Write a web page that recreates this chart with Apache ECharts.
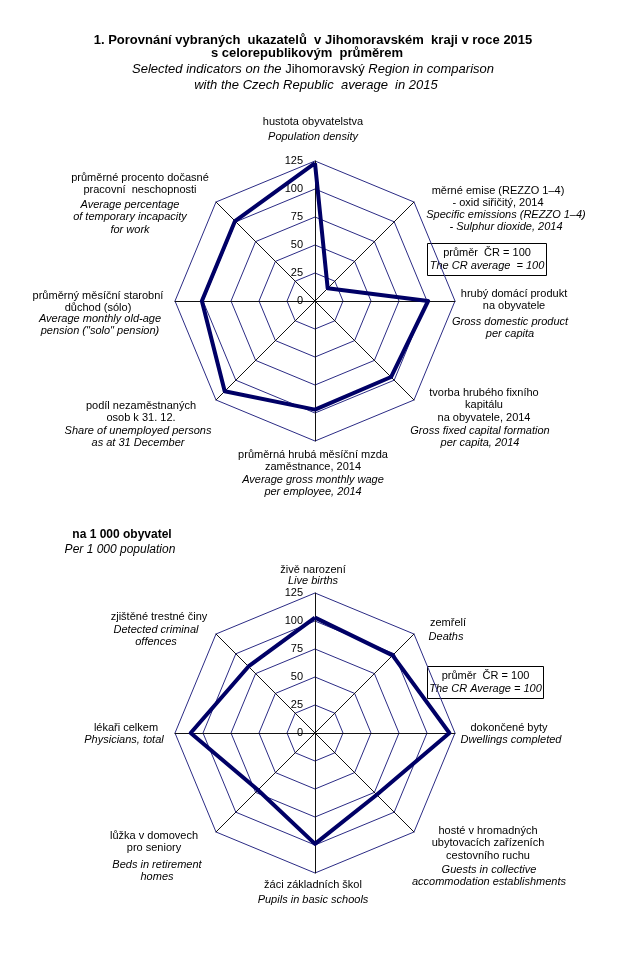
<!DOCTYPE html>
<html><head><meta charset="utf-8">
<script src="https://cdn.jsdelivr.net/npm/echarts@6/dist/echarts.min.js"></script>
<style>html,body{margin:0;padding:0;background:#fff}#c{width:626px;height:960px}</style>
</head><body><div id="c"></div><script>
// ---- data (clockwise from top) ----
const scaleTicks = [0, 25, 50, 75, 100, 125];
const topNamesCz = [
  'hustota obyvatelstva',
  'měrné emise (REZZO 1–4)\n- oxid siřičitý, 2014',
  'hrubý domácí produkt\nna obyvatele',
  'tvorba hrubého fixního\nkapitálu\nna obyvatele, 2014',
  'průměrná hrubá měsíční mzda\nzaměstnance, 2014',
  'podíl nezaměstnaných\nosob k 31. 12.',
  'průměrný měsíční starobní\ndůchod (sólo)',
  'průměrné procento dočasné\npracovní  neschopnosti'
];
const topNamesEn = [
  'Population density',
  'Specific emissions (REZZO 1–4)\n- Sulphur dioxide, 2014',
  'Gross domestic product\nper capita',
  'Gross fixed capital formation\nper capita, 2014',
  'Average gross monthly wage\nper employee, 2014',
  'Share of unemployed persons\nas at 31 December',
  'Average monthly old-age\npension ("solo" pension)',
  'Average percentage\nof temporary incapacity\nfor work'
];
const topValues = [123, 16, 101, 96, 97, 114, 101, 101];

const bottomNamesCz = [
  'živě narození',
  'zemřelí',
  'dokončené byty',
  'hosté v hromadných\nubytovacích zařízeních\ncestovního ruchu',
  'žáci základních škol',
  'lůžka v domovech\npro seniory',
  'lékaři celkem',
  'zjištěné trestné činy'
];
const bottomNamesEn = [
  'Live births',
  'Deaths',
  'Dwellings completed',
  'Guests in collective\naccommodation establishments',
  'Pupils in basic schools',
  'Beds in retirement\nhomes',
  'Physicians, total',
  'Detected criminal\noffences'
];
const bottomValues = [103, 98, 120, 78, 99, 72, 111, 84];

// ---- layout (label positions: czX, czFirstLineY, enX, enFirstLineY) ----
const topLabelPos = [
  [313, 122, 313, 137],
  [498, 191, 506, 215],
  [514, 294, 510, 322],
  [484, 393, 480, 431],
  [313, 455, 313, 480],
  [141, 406, 138, 431],
  [98, 296, 100, 319],
  [140, 178, 130, 205]
];
const bottomLabelPos = [
  [313, 570, 313, 581],
  [448, 623, 446, 637],
  [509, 728, 511, 740],
  [488, 831, 489, 870],
  [313, 885, 313, 900],
  [154, 836, 157, 865],
  [126, 728, 124, 740],
  [159, 617, 156, 630]
];

const FONT = '"Liberation Sans", Arial, sans-serif';
const LH = 12.4;
// ECharts radar places indicators counter-clockwise; reorder clockwise data
const order = [0, 7, 6, 5, 4, 3, 2, 1];

function radarCfg(center) {
  return {
    center: center, radius: 140, startAngle: 90, shape: 'polygon', splitNumber: 5,
    indicator: order.map((k, j) => ({
      name: '', min: scaleTicks[0], max: scaleTicks[scaleTicks.length - 1],
      axisLabel: j === 0 ? { show: true } : { show: false }
    })),
    axisName: { show: false },
    axisLine: { lineStyle: { color: '#111', width: 1 } },
    splitLine: { lineStyle: { color: '#2B2B85', width: 1 } },
    splitArea: { show: false },
    axisTick: { show: false },
    axisLabel: { show: false, color: '#000', fontSize: 11, fontFamily: FONT, margin: 12 }
  };
}

const graphics = [];
function addText(x, y, text, italic, extra) {
  graphics.push(Object.assign({
    type: 'text', x: x, y: y - LH / 2, silent: true,
    style: {
      text: text, fill: '#000', align: 'center', verticalAlign: 'top',
      font: (italic ? 'italic ' : '') + '11px ' + FONT, lineHeight: LH
    }
  }, extra || {}));
}
topNamesCz.forEach((t, i) => {
  addText(topLabelPos[i][0], topLabelPos[i][1], t, false);
  addText(topLabelPos[i][2], topLabelPos[i][3], topNamesEn[i], true);
});
bottomNamesCz.forEach((t, i) => {
  addText(bottomLabelPos[i][0], bottomLabelPos[i][1], t, false);
  addText(bottomLabelPos[i][2], bottomLabelPos[i][3], bottomNamesEn[i], true);
});

// Titles
graphics.push({ type: 'text', x: 313, y: 34, silent: true, style: {
  text: '1. Porovnání vybraných  ukazatelů  v Jihomoravském  kraji v roce 2015',
  font: 'bold 13px ' + FONT, fill: '#000', align: 'center', verticalAlign: 'top' } });
graphics.push({ type: 'text', x: 307, y: 47, silent: true, style: {
  text: 's celorepublikovým  průměrem',
  font: 'bold 13px ' + FONT, fill: '#000', align: 'center', verticalAlign: 'top' } });
graphics.push({ type: 'text', x: 313, y: 63, silent: true, style: {
  text: '{i|Selected indicators on the }{n|Jihomoravský}{i| Region in comparison}',
  align: 'center', verticalAlign: 'top',
  rich: { i: { font: 'italic 13px ' + FONT, fill: '#000' }, n: { font: '13px ' + FONT, fill: '#000' } } } });
graphics.push({ type: 'text', x: 316, y: 79, silent: true, style: {
  text: 'with the Czech Republic  average  in 2015',
  font: 'italic 13px ' + FONT, fill: '#000', align: 'center', verticalAlign: 'top' } });

graphics.push({ type: 'text', x: 122, y: 529, silent: true, style: {
  text: 'na 1 000 obyvatel', font: 'bold 12px ' + FONT, fill: '#000', align: 'center', verticalAlign: 'top' } });
graphics.push({ type: 'text', x: 120, y: 544, silent: true, style: {
  text: 'Per 1 000 population', font: 'italic 12px ' + FONT, fill: '#000', align: 'center', verticalAlign: 'top' } });

// Legend boxes
function addBox(x, y, w, h, l1, l2) {
  graphics.push({ type: 'rect', silent: true, shape: { x: x, y: y, width: w, height: h },
    style: { fill: '#fff', stroke: '#000', lineWidth: 1 } });
  graphics.push({ type: 'text', x: x + w / 2, y: y + 4, silent: true, style: {
    text: l1, font: '11px ' + FONT, fill: '#000', align: 'center', verticalAlign: 'top' } });
  graphics.push({ type: 'text', x: x + w / 2, y: y + 16.5, silent: true, style: {
    text: l2, font: 'italic 11px ' + FONT, fill: '#000', align: 'center', verticalAlign: 'top' } });
}
addBox(427.5, 243.5, 119, 32, 'průměr  ČR = 100', 'The CR average  = 100');
addBox(427.5, 666.5, 116, 32, 'průměr  ČR = 100', 'The CR Average = 100');

const chart = echarts.init(document.getElementById('c'), null, { renderer: 'canvas' });
chart.setOption({
  animation: false,
  backgroundColor: '#fff',
  radar: [radarCfg([315, 301]), radarCfg([315, 733])],
  series: [
    { type: 'radar', radarIndex: 0, symbol: 'none', silent: true,
      lineStyle: { color: '#000066', width: 4 }, itemStyle: { color: '#000066' },
      data: [{ value: order.map(k => topValues[k]) }] },
    { type: 'radar', radarIndex: 1, symbol: 'none', silent: true,
      lineStyle: { color: '#000066', width: 4 }, itemStyle: { color: '#000066' },
      data: [{ value: order.map(k => bottomValues[k]) }] }
  ],
  graphic: graphics
});
</script></body></html>
